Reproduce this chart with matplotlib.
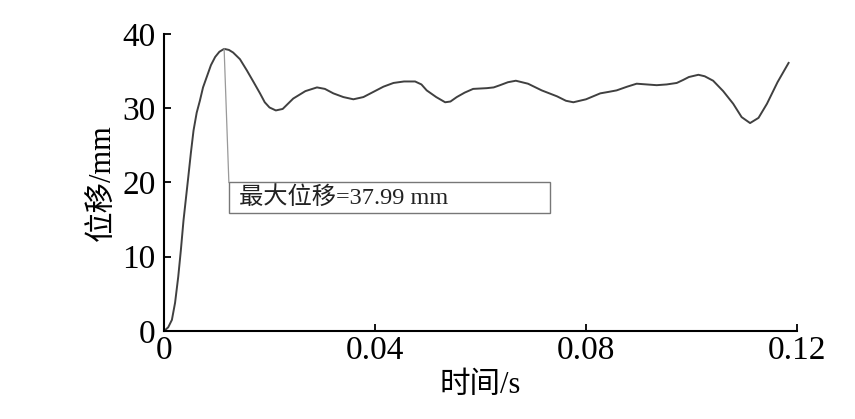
import matplotlib
matplotlib.use("Agg")
import matplotlib.pyplot as plt
from matplotlib.patches import Rectangle

# data
time_s = [0, 0.0008, 0.0015, 0.0021, 0.0027, 0.0032, 0.0037, 0.0046, 0.0051, 0.0056,
          0.0062, 0.0068, 0.0074, 0.0081, 0.0089, 0.0097, 0.0105, 0.0114, 0.0123, 0.0131,
          0.0144, 0.0157, 0.0170, 0.0182, 0.0191, 0.0200, 0.0212, 0.0225, 0.0245, 0.0268,
          0.0290, 0.0305, 0.0321, 0.0340, 0.0359, 0.0378, 0.0397, 0.0416, 0.0435, 0.0455,
          0.0476, 0.0488, 0.0498, 0.0516, 0.0533, 0.0543, 0.0555, 0.0570, 0.0586, 0.0612,
          0.0625, 0.0637, 0.0652, 0.0667, 0.0690, 0.0716, 0.0745, 0.0762, 0.0776, 0.0800,
          0.0827, 0.0843, 0.0858, 0.0878, 0.0896, 0.0915, 0.0934, 0.0953, 0.0972, 0.0984,
          0.0995, 0.1013, 0.1025, 0.1041, 0.1060, 0.1079, 0.1095, 0.1111, 0.1127, 0.1143,
          0.1163, 0.1184]
disp_mm = [0, 0.5, 1.5, 3.8, 7.3, 10.9, 14.9, 20.7, 24.0, 27.0,
           29.4, 31.0, 32.8, 34.2, 35.8, 36.9, 37.6, 37.99, 37.85, 37.5,
           36.6, 35.1, 33.5, 32.0, 30.8, 30.1, 29.7, 29.9, 31.3, 32.3,
           32.8, 32.6, 32.0, 31.5, 31.2, 31.5, 32.2, 32.9, 33.4, 33.6,
           33.6, 33.2, 32.4, 31.5, 30.8, 30.9, 31.5, 32.1, 32.6, 32.7,
           32.8, 33.1, 33.5, 33.7, 33.3, 32.4, 31.6, 31.0, 30.8, 31.2,
           32.0, 32.2, 32.4, 32.9, 33.3, 33.2, 33.1, 33.2, 33.4, 33.8,
           34.2, 34.5, 34.3, 33.7, 32.3, 30.6, 28.8, 28.0, 28.7, 30.6,
           33.5, 36.1]
x_ticks = [0, 0.04, 0.08, 0.12]
x_ticklabels = ["0", "0.04", "0.08", "0.12"]
y_ticks = [0, 10, 20, 30, 40]
peak_text = "最大位移=37.99 mm"

fam = ["Liberation Serif", "Noto Sans CJK SC"]
plt.rcParams["font.family"] = fam

fig = plt.figure(figsize=(8.55, 4.19), dpi=100)
ax = fig.add_axes([0.1918, 0.210, 0.7404, 0.709])

ax.plot(time_s, disp_mm, color="#404040", lw=1.4)

ax.set_xlim(0, 0.12)
ax.set_ylim(0, 40)
ax.set_xticks(x_ticks)
ax.set_xticklabels(x_ticklabels)
ax.set_yticks(y_ticks)
for s in ["top", "right"]:
    ax.spines[s].set_visible(False)
for s in ["left", "bottom"]:
    ax.spines[s].set_linewidth(1.5)
ax.tick_params(axis="both", direction="in", length=5, width=1.3, labelsize=24)
ax.tick_params(axis="x", pad=3)
ax.tick_params(axis="y", pad=6)
ax.set_xlabel("时间/s", fontsize=22, labelpad=4)
ax.set_ylabel("位移/mm", fontsize=22, labelpad=4)

# peak annotation
ipk = disp_mm.index(max(disp_mm))
bx0, by0, bx1, by1 = 0.0123, 15.85, 0.0732, 20.0
ax.add_patch(Rectangle((bx0, by0), bx1 - bx0, by1 - by0, fill=False,
                       edgecolor="#777777", lw=1.0, zorder=3))
ax.plot([time_s[ipk], bx0], [disp_mm[ipk], by1], color="#999999", lw=0.9, zorder=2)
ax.text(bx0 + 0.0019, (by0 + by1) / 2, peak_text, fontsize=17.5, va="center",
        ha="left", color="#222222")

fig.savefig("out.png", dpi=100)
